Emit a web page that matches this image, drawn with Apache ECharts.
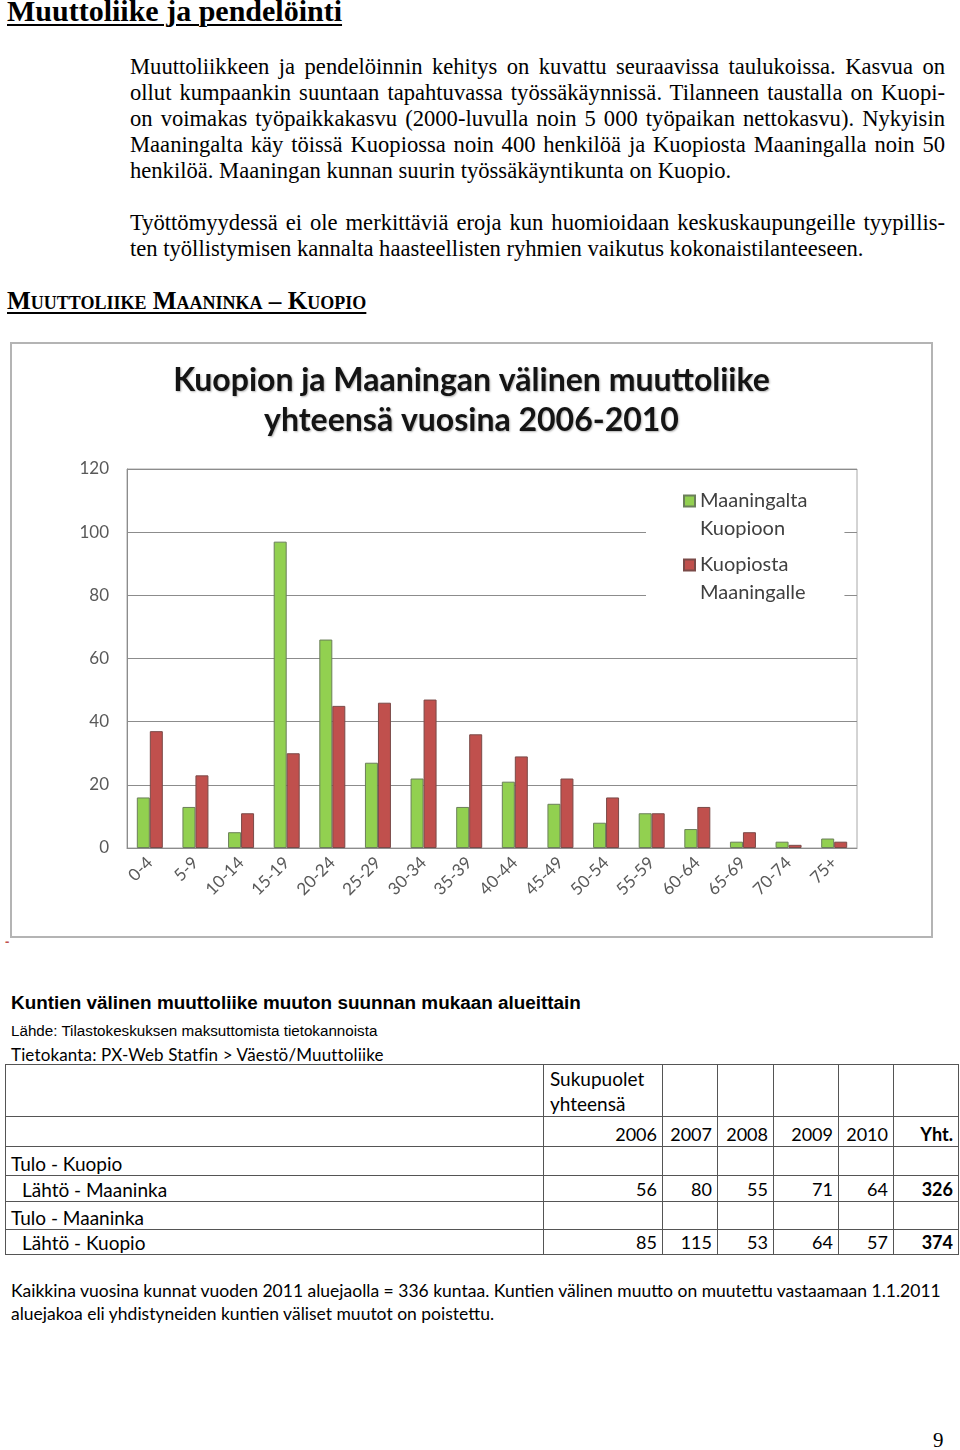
<!DOCTYPE html>
<html>
<head>
<meta charset="utf-8">
<script src="https://cdn.jsdelivr.net/npm/echarts@6/dist/echarts.min.js"></script>
<style>
  html, body { margin: 0; padding: 0; background: #fff; }
  body { width: 960px; height: 1450px; position: relative; overflow: hidden; color: #000; }
  .abs { position: absolute; }
  .h1 { left: 7px; top: -6px; font: bold 30px "Liberation Serif", serif; text-decoration: underline; text-decoration-thickness: 2px; text-underline-offset: 3px; white-space: nowrap; }
  .para { left: 130px; width: 815px; font: 22.6px/26px "Liberation Serif", serif; }
  .para div { text-align: justify; text-align-last: justify; }
  .para div.last { text-align: left; text-align-last: left; }
  .h2 { left: 7px; top: 287px; font: bold 25.2px "Liberation Serif", serif; font-variant: small-caps; text-decoration: underline; text-underline-offset: 3px; white-space: nowrap; }
  #chart { left: 10px; top: 342px; width: 923px; height: 596px; box-sizing: border-box; border: 2px solid #b4b4b4; }
  .dash { left: 5px; top: 934px; font: bold 13px "Liberation Sans", sans-serif; color: #c0504d; }
  .ttitle { left: 11px; top: 992px; font: bold 18.9px "Liberation Sans", sans-serif; white-space: nowrap; }
  .src { left: 11px; top: 1022px; font: 15.2px "Liberation Sans", sans-serif; white-space: nowrap; }
  .db { left: 11px; top: 1044px; font: 17px "Lato", sans-serif; letter-spacing: 0.15px; white-space: nowrap; }
  table { position: absolute; left: 5px; top: 1064px; border-collapse: collapse; font: 18px "Lato", sans-serif; table-layout: fixed; }
  td { border: 1px solid #555; padding: 0 5px; white-space: nowrap; }
  td.lab { font-size: 19px; vertical-align: bottom; }
  td.num { text-align: right; vertical-align: bottom; padding-bottom: 1px; }
  td.b { font-weight: bold; }
  .foot { left: 11px; top: 1279px; font: 17.5px/23px "Lato", sans-serif; white-space: nowrap; }
  .pnum { left: 933px; top: 1428px; font: 21px "Liberation Serif", serif; }
</style>
</head>
<body>
<div class="abs h1">Muuttoliike ja pendelöinti</div>
<div class="abs para" style="top:54px">
  <div>Muuttoliikkeen ja pendelöinnin kehitys on kuvattu seuraavissa taulukoissa. Kasvua on</div>
  <div>ollut kumpaankin suuntaan tapahtuvassa työssäkäynnissä. Tilanneen taustalla on Kuopi-</div>
  <div>on voimakas työpaikkakasvu (2000-luvulla noin 5 000 työpaikan nettokasvu). Nykyisin</div>
  <div>Maaningalta käy töissä Kuopiossa noin 400 henkilöä ja Kuopiosta Maaningalla noin 50</div>
  <div class="last">henkilöä. Maaningan kunnan suurin työssäkäyntikunta on Kuopio.</div>
</div>
<div class="abs para" style="top:210px">
  <div>Työttömyydessä ei ole merkittäviä eroja kun huomioidaan keskuskaupungeille tyypillis-</div>
  <div class="last">ten työllistymisen kannalta haasteellisten ryhmien vaikutus kokonaistilanteeseen.</div>
</div>
<div class="abs h2">Muuttoliike Maaninka – Kuopio</div>

<div id="chart" class="abs"></div>
<div class="abs dash">-</div>

<div class="abs ttitle">Kuntien välinen muuttoliike muuton suunnan mukaan alueittain</div>
<div class="abs src">Lähde: Tilastokeskuksen maksuttomista tietokannoista</div>
<div class="abs db">Tietokanta: PX-Web Statfin &gt; Väestö/Muuttoliike</div>
<table id="tbl"></table>
<div class="abs foot">Kaikkina vuosina kunnat vuoden 2011 aluejaolla = 336 kuntaa. Kuntien välinen muutto on muutettu vastaamaan 1.1.2011<br>aluejakoa eli yhdistyneiden kuntien väliset muutot on poistettu.</div>
<div class="abs pnum">9</div>

<script>
// ---- Chart data ----
const chartTitle = 'Kuopion ja Maaningan välinen muuttoliike\nyhteensä vuosina 2006-2010';
const categories = ['0-4','5-9','10-14','15-19','20-24','25-29','30-34','35-39','40-44','45-49','50-54','55-59','60-64','65-69','70-74','75+'];
const seriesNames = ['Maaningalta\nKuopioon', 'Kuopiosta\nMaaningalle'];
const maaningaltaKuopioon = [16, 13, 5, 97, 66, 27, 22, 13, 21, 14, 8, 11, 6, 2, 2, 3];
const kuopiostaMaaningalle = [37, 23, 11, 30, 45, 46, 47, 36, 29, 22, 16, 11, 13, 5, 1, 2];
const yMin = 0, yMax = 120, yStep = 20;

// ---- Table data ----
const tableHeaderTop = 'Sukupuolet\nyhteensä';
const years = ['2006', '2007', '2008', '2009', '2010'];
const totalLabel = 'Yht.';
const rowGroups = [
  { group: 'Tulo - Kuopio', label: 'Lähtö - Maaninka', values: [56, 80, 55, 71, 64], total: 326 },
  { group: 'Tulo - Maaninka', label: 'Lähtö - Kuopio', values: [85, 115, 53, 64, 57], total: 374 }
];

// build table
(function () {
  const colW = [538, 119, 55, 56, 65, 55, 65];
  const t = document.getElementById('tbl');
  let html = '<colgroup>' + colW.map(w => '<col style="width:' + w + 'px">').join('') + '</colgroup>';
  html += '<tr style="height:52px"><td></td><td class="lab" style="vertical-align:top;line-height:25px;padding-top:1px;padding-left:6px">' +
    tableHeaderTop.split('\n').join('<br>') + '</td>' + '<td></td>'.repeat(years.length) + '</tr>';
  html += '<tr style="height:30px"><td></td>' +
    years.map(y => '<td class="num">' + y + '</td>').join('') +
    '<td class="num b">' + totalLabel + '</td></tr>';
  const hs = [[29, 26], [28, 25]];
  rowGroups.forEach((r, i) => {
    html += '<tr style="height:' + hs[i][0] + 'px"><td class="lab">' + r.group + '</td>' + '<td></td>'.repeat(years.length + 1) + '</tr>';
    html += '<tr style="height:' + hs[i][1] + 'px"><td class="lab" style="padding-left:16px">' + r.label + '</td>' +
      r.values.map(v => '<td class="num">' + v + '</td>').join('') +
      '<td class="num b">' + r.total + '</td></tr>';
  });
  t.innerHTML = html;
})();

// build chart
const chart = echarts.init(document.getElementById('chart'), null, { renderer: 'canvas' });
const axisGray = '#8c8c8c';
chart.setOption({
  animation: false,
  backgroundColor: '#fff',
  title: {
    text: chartTitle,
    left: 'center',
    top: 12,
    textStyle: {
      fontFamily: 'Lato', fontWeight: 'bold', fontSize: 32, lineHeight: 40, color: '#141414',
      textShadowColor: 'rgba(0,0,0,0.3)', textShadowBlur: 2, textShadowOffsetX: 1, textShadowOffsetY: 1
    }
  },
  legend: {
    orient: 'vertical',
    left: 634,
    top: 139,
    itemWidth: 11,
    itemHeight: 11,
    itemGap: -12,
    icon: 'rect',
    backgroundColor: '#fff',
    padding: [-20, 37, 6, 37],
    formatter: function (name) {
      return '{s| }\n' + name.split('\n').map(p => '{a|' + p + '}').join('\n');
    },
    textStyle: {
      rich: {
        s: { fontSize: 20, lineHeight: 28 },
        a: { fontFamily: 'Lato', fontSize: 20, lineHeight: 28, color: '#404040' }
      }
    },
    data: seriesNames
  },
  grid: {
    left: 115, right: 74, top: 125, bottom: 88,
    show: true, borderColor: '#a8a8a8', borderWidth: 1, containLabel: false
  },
  xAxis: {
    type: 'category',
    data: categories,
    axisLine: { lineStyle: { color: axisGray } },
    axisTick: { show: false },
    axisLabel: { rotate: 45, margin: 12, fontFamily: 'Lato', fontSize: 17, color: '#595959', interval: 0 }
  },
  yAxis: {
    type: 'value',
    min: yMin, max: yMax, interval: yStep,
    axisLine: { show: true, lineStyle: { color: axisGray } },
    axisTick: { show: false },
    splitLine: { lineStyle: { color: axisGray, width: 1 } },
    axisLabel: { margin: 18, fontFamily: 'Lato', fontSize: 17, color: '#595959' }
  },
  series: [
    {
      name: seriesNames[0], type: 'bar', data: maaningaltaKuopioon,
      barWidth: 13, barGap: '0%',
      itemStyle: { color: '#92d050', borderColor: '#6b7f5a', borderWidth: 1 }
    },
    {
      name: seriesNames[1], type: 'bar', data: kuopiostaMaaningalle,
      barWidth: 13, barGap: '0%',
      itemStyle: { color: '#c0504d', borderColor: '#7a4a48', borderWidth: 1 }
    }
  ]
});
</script>
</body>
</html>
